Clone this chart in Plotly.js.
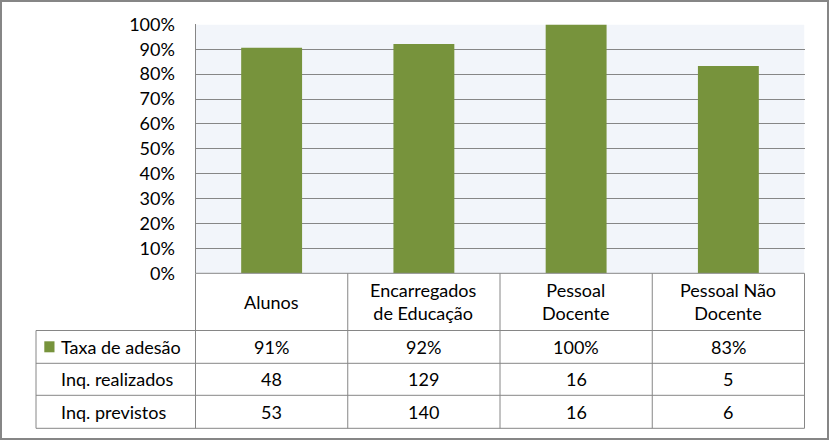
<!DOCTYPE html>
<html>
<head>
<meta charset="utf-8">
<script src="https://cdn.plot.ly/plotly-3.0.1.min.js"></script>
<style>
  html, body { margin: 0; padding: 0; background: #ffffff; }
  #chart { width: 829px; height: 440px; }
</style>
</head>
<body>
<div id="chart"></div>
<script>
// ---- Data ----
const categories = ['Alunos', 'Encarregados de Educação', 'Pessoal Docente', 'Pessoal Não Docente'];
const headerLabels = ['Alunos', 'Encarregados<br>de Educação', 'Pessoal<br>Docente', 'Pessoal Não<br>Docente'];
const taxaAdesao = [0.906, 0.921, 1.00, 0.833];
const taxaLabels = ['91%', '92%', '100%', '83%'];
const inqRealizados = [48, 129, 16, 5];
const inqPrevistos = [53, 140, 16, 6];
const rowNames = ['Taxa de adesão', 'Inq. realizados', 'Inq. previstos'];

// ---- Layout helpers (pixel -> paper / axis positions) ----
const W = 829, H = 440;
const FONT = 'Lato, "Open Sans", sans-serif';
const TXT = '#000000';
const LINE = '#868686';
const GREEN = '#77933c';
const plotL = 195.5, plotR = 804.5, plotT = 24.4, plotB = 273.3;
const colW = (plotR - plotL) / 4;
const x2min = -0.5 - plotL / colW;
const x2max = 3.5 + (W - plotR) / colW;
const px2 = p => x2min + p * (x2max - x2min) / W;
const py = p => 1 - p / H;

const tableLeft = 36;
const rowEdges = [plotB, 330.5, 363.3, 395.3, 428.3];

const shapes = [];
const annotations = [];

// plot background
shapes.push({type: 'rect', xref: 'x', yref: 'y', x0: -0.5, x1: 3.5, y0: 0, y1: 1,
  fillcolor: '#f2f5fa', line: {width: 0}, layer: 'below'});

// table horizontal lines
shapes.push({type: 'line', xref: 'x2', yref: 'paper', x0: -0.5, x1: 3.5, y0: py(rowEdges[0]), y1: py(rowEdges[0]), line: {color: LINE, width: 1}});
for (let r = 1; r < rowEdges.length; r++) {
  shapes.push({type: 'line', xref: 'x2', yref: 'paper', x0: px2(tableLeft), x1: 3.5,
    y0: py(rowEdges[r]), y1: py(rowEdges[r]), line: {color: LINE, width: 1}});
}
// table vertical lines
shapes.push({type: 'line', xref: 'x2', yref: 'paper', x0: px2(tableLeft), x1: px2(tableLeft),
  y0: py(rowEdges[1]), y1: py(rowEdges[4]), line: {color: LINE, width: 1}});
for (let c = 0; c <= categories.length; c++) {
  shapes.push({type: 'line', xref: 'x2', yref: 'paper', x0: c - 0.5, x1: c - 0.5,
    y0: py(rowEdges[0]), y1: py(rowEdges[4]), line: {color: LINE, width: 1}});
}

// legend key square
shapes.push({type: 'rect', xref: 'x2', yref: 'paper', x0: px2(44.3), x1: px2(54.5),
  y0: py(352.3), y1: py(341.3), fillcolor: GREEN, line: {width: 0}});

// outer border
shapes.push({type: 'rect', xref: 'paper', yref: 'paper', x0: 0, x1: 1, y0: 0, y1: 1,
  line: {color: LINE, width: 4}, fillcolor: 'rgba(0,0,0,0)'});

const mid = r => py((rowEdges[r] + rowEdges[r + 1]) / 2);
const font = {family: FONT, size: 18, color: TXT};

// header
headerLabels.forEach((t, i) => annotations.push({xref: 'x2', yref: 'paper', x: i, y: mid(0),
  text: t, showarrow: false, xanchor: 'center', yanchor: 'middle', font: font, align: 'center'}));
// row names
rowNames.forEach((t, r) => annotations.push({xref: 'x2', yref: 'paper', x: px2(59), y: mid(r + 1),
  text: t, showarrow: false, xanchor: 'left', yanchor: 'middle', font: font}));
// rows
const rows = [taxaLabels, inqRealizados.map(String), inqPrevistos.map(String)];
rows.forEach((vals, r) => vals.forEach((v, i) => annotations.push({xref: 'x2', yref: 'paper',
  x: i, y: mid(r + 1), text: v, showarrow: false, xanchor: 'center', yanchor: 'middle', font: font})));

const trace = {
  type: 'bar',
  x: categories,
  y: taxaAdesao,
  marker: {color: GREEN, line: {width: 0}},
  hoverinfo: 'none'
};

const layout = {
  width: W, height: H,
  margin: {l: 0, r: 0, t: 0, b: 0},
  paper_bgcolor: '#ffffff',
  plot_bgcolor: 'rgba(0,0,0,0)',
  showlegend: false,
  bargap: 0.6,
  xaxis: {domain: [plotL / W, plotR / W], range: [-0.5, 3.5], type: 'category',
    showticklabels: false, showgrid: false, zeroline: false, showline: false, ticks: '', fixedrange: true},
  yaxis: {domain: [py(plotB), py(plotT)], range: [0, 1], dtick: 0.1, tick0: 0, tickformat: '.0%',
    showgrid: true, gridcolor: LINE, gridwidth: 1, zeroline: false,
    showline: true, linecolor: LINE, linewidth: 1, ticks: '', ticklabelstandoff: 16,
    tickfont: font, fixedrange: true},
  xaxis2: {domain: [0, 1], range: [x2min, x2max], anchor: 'y2', visible: false, fixedrange: true},
  yaxis2: {domain: [0, 0.02], range: [0, 1], anchor: 'x2', visible: false, showgrid: false, fixedrange: true},
  shapes: shapes,
  annotations: annotations
};

Plotly.newPlot('chart', [trace], layout, {displayModeBar: false, staticPlot: true});
</script>
</body>
</html>
